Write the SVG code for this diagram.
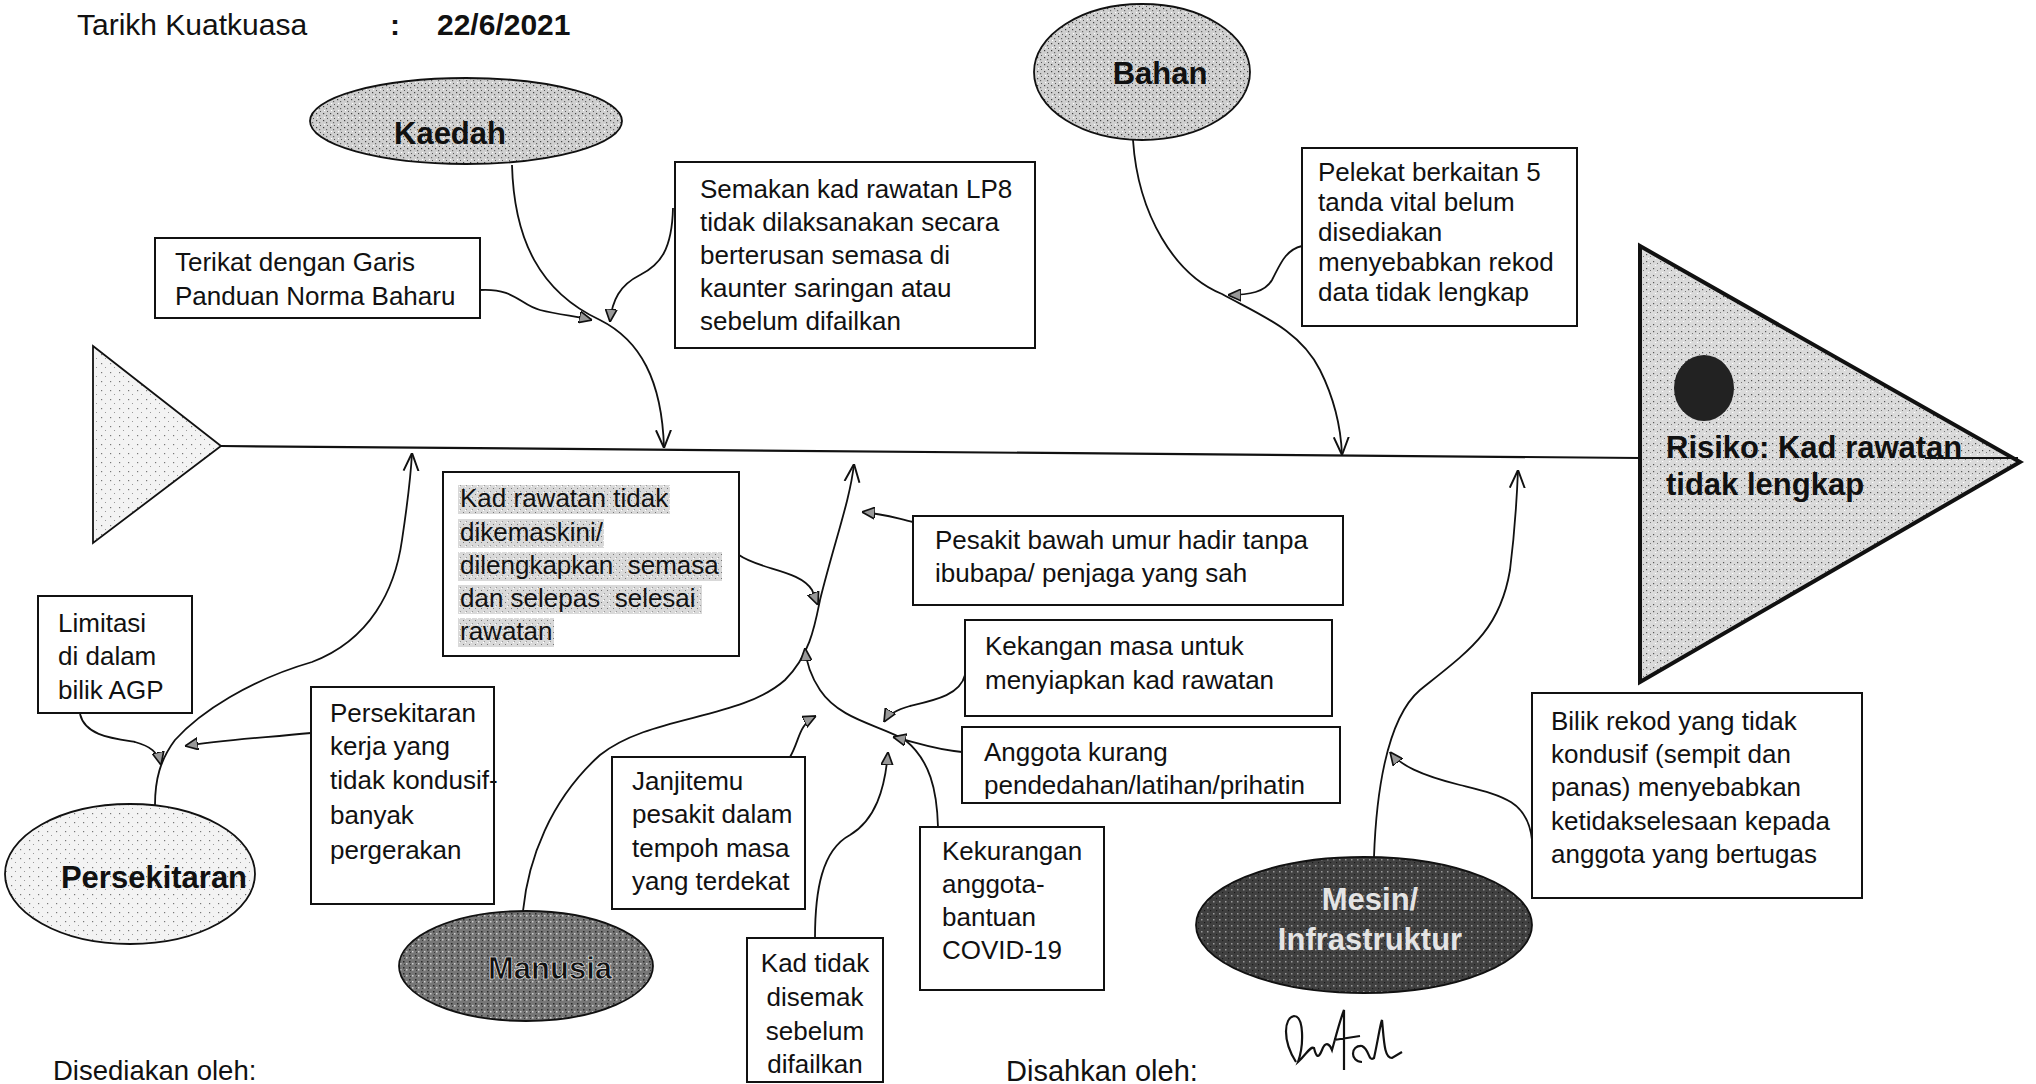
<svg xmlns="http://www.w3.org/2000/svg" width="2036" height="1084" viewBox="0 0 2036 1084">
<defs>
<style>
text{font-family:"Liberation Sans",Arial,sans-serif;fill:#111}
.t{font-size:26px}
.b{font-size:31px;font-weight:bold}
.box{fill:#fff;stroke:#111;stroke-width:2}
.ln{fill:none;stroke:#111;stroke-width:1.8}
.sp{fill:none;stroke:#111;stroke-width:2.2}
.ar{marker-end:url(#tri)}
.ao{marker-end:url(#open)}
</style>
<pattern id="pMid" width="7" height="7" patternUnits="userSpaceOnUse">
<rect width="7" height="7" fill="#cfcfcf"/>
<rect x="1" y="1" width="1.2" height="1.2" fill="#444"/>
<rect x="4" y="3" width="1.2" height="1.2" fill="#666"/>
<rect x="2" y="5" width="1.2" height="1.2" fill="#fff"/>
<rect x="5" y="6" width="1" height="1" fill="#555"/>
</pattern>
<pattern id="pHead" width="7" height="7" patternUnits="userSpaceOnUse">
<rect width="7" height="7" fill="#dadada"/>
<rect x="1" y="2" width="1.2" height="1.2" fill="#555"/>
<rect x="5" y="4" width="1" height="1" fill="#777"/>
<rect x="3" y="6" width="1.2" height="1.2" fill="#fff"/>
</pattern>
<pattern id="pLight" width="9" height="9" patternUnits="userSpaceOnUse">
<rect width="9" height="9" fill="#f3f3f3"/>
<rect x="2" y="3" width="1.2" height="1.2" fill="#777"/>
<rect x="6" y="7" width="1" height="1" fill="#999"/>
</pattern>
<pattern id="pDark1" width="6" height="6" patternUnits="userSpaceOnUse">
<rect width="6" height="6" fill="#767676"/>
<rect x="1" y="1" width="1.5" height="1.5" fill="#2a2a2a"/>
<rect x="4" y="3" width="1.5" height="1.5" fill="#cfcfcf"/>
<rect x="2" y="4" width="1" height="1" fill="#3a3a3a"/>
</pattern>
<pattern id="pDark2" width="6" height="6" patternUnits="userSpaceOnUse">
<rect width="6" height="6" fill="#404040"/>
<rect x="1" y="1" width="1.5" height="1.5" fill="#9a9a9a"/>
<rect x="4" y="4" width="1.2" height="1.2" fill="#1a1a1a"/>
</pattern>
<pattern id="pHl" width="6" height="6" patternUnits="userSpaceOnUse">
<rect width="6" height="6" fill="#d9d9d9"/>
<rect x="1" y="2" width="1" height="1" fill="#777"/>
<rect x="4" y="5" width="1" height="1" fill="#999"/>
<rect x="3" y="0" width="1" height="1" fill="#fff"/>
</pattern>
<marker id="open" viewBox="0 0 12 12" refX="12" refY="6" markerWidth="18" markerHeight="18" markerUnits="userSpaceOnUse" orient="auto">
<path d="M0,1 L12,6 L0,11" fill="none" stroke="#111" stroke-width="1.3"/>
</marker>
<marker id="tri" viewBox="0 0 10 10" refX="10" refY="5" markerWidth="13" markerHeight="13" markerUnits="userSpaceOnUse" orient="auto">
<path d="M0,0.5 L10,5 L0,9.5 z" fill="#999" stroke="#111" stroke-width="1.3"/>
</marker>
</defs>
<rect width="2036" height="1084" fill="#fff"/>

<g id="header">
<text x="77" y="35" font-size="30">Tarikh Kuatkuasa</text>
<text x="390" y="35" font-size="30" font-weight="bold">:</text>
<text x="437" y="35" font-size="30" font-weight="bold">22/6/2021</text>
</g>

<g id="connectors">
<line class="sp" x1="221" y1="446" x2="1640" y2="458"/>
<path class="ln ao" d="M512 165 C514 240 540 292 600 320 C640 340 662 380 664 448"/>
<path class="ln ar" d="M480 290 C515 288 520 305 540 310 C560 315 575 316 592 320"/>
<path class="ln ar" d="M673 208 C672 250 660 265 640 275 C620 285 612 300 610 322"/>
<path class="ln ao" d="M1133 140 C1138 215 1175 275 1222 294 C1260 315 1300 330 1320 370 C1335 400 1341 430 1342 455"/>
<path class="ln ar" d="M1302 246 C1285 250 1280 265 1272 280 C1265 292 1250 295 1228 295"/>
<path class="ln ao" d="M155 805 C155 780 160 760 175 740 C200 712 250 680 312 662 C370 640 395 590 402 540 C408 500 411 472 412 453"/>
<path class="ln ar" d="M80 714 C85 735 110 738 135 742 C150 746 158 752 161 765"/>
<path class="ln ar" d="M311 733 C260 738 220 740 185 746"/>
<path class="ln ao" d="M523 911 C528 860 550 800 600 755 C650 715 740 720 785 680 C810 655 815 625 820 600 C835 540 850 500 854 464"/>
<path class="ln ar" d="M913 522 C895 518 885 514 862 512"/>
<path class="ln ar" d="M739 555 C760 570 800 570 812 590 L818 605"/>
<path class="ln ar" d="M938 827 C937 790 930 760 905 740 C880 725 840 720 820 690 C810 675 806 660 805 648"/>
<path class="ln ar" d="M965 675 C960 695 935 700 910 706 C895 710 888 715 884 722"/>
<path class="ln ar" d="M962 752 C935 750 915 742 893 737"/>
<path class="ln ar" d="M815 938 C815 890 822 850 850 835 C875 820 885 790 888 752"/>
<path class="ln ar" d="M790 757 C800 740 798 725 816 716"/>
<path class="ln ao" d="M1374 857 C1376 800 1385 720 1420 690 C1470 650 1500 630 1510 570 C1515 530 1517 495 1518 470"/>
<path class="ln ar" d="M1532 840 C1528 800 1500 795 1460 785 C1420 775 1400 765 1390 752"/>
</g>

<g id="tail">
<polygon points="93,346 221,446 93,543" fill="url(#pLight)" stroke="#111" stroke-width="1.8"/>
</g>

<g id="head">
<polygon points="1640,246 2020,462 1640,682" fill="url(#pHead)" stroke="#111" stroke-width="4"/>
<ellipse cx="1704" cy="388" rx="30" ry="33" fill="#222"/>
<line x1="1925" y1="458" x2="2018" y2="458" stroke="#111" stroke-width="2"/>
<text class="b" x="1666" y="458" font-size="30">Risiko: Kad rawatan</text>
<text class="b" x="1666" y="495" font-size="30">tidak lengkap</text>
</g>

<g id="kaedah">
<ellipse cx="466" cy="121" rx="156" ry="43" fill="url(#pMid)" stroke="#111" stroke-width="1.8"/>
<text class="b" x="450" y="144" text-anchor="middle">Kaedah</text>
</g>

<g id="bahan">
<ellipse cx="1142" cy="72" rx="108" ry="68" fill="url(#pMid)" stroke="#111" stroke-width="1.8"/>
<text class="b" x="1160" y="84" text-anchor="middle">Bahan</text>
</g>

<g id="persekitaran">
<ellipse cx="130" cy="874" rx="125" ry="70" fill="url(#pLight)" stroke="#111" stroke-width="1.8"/>
<text class="b" x="154" y="888" text-anchor="middle">Persekitaran</text>
</g>

<g id="manusia">
<ellipse cx="526" cy="966" rx="127" ry="55" fill="url(#pDark1)" stroke="#111" stroke-width="1.8"/>
<text class="b" x="550" y="979" text-anchor="middle" stroke="#fff" stroke-width="0.6">Manusia</text>
</g>

<g id="mesin">
<ellipse cx="1364" cy="925" rx="168" ry="68" fill="url(#pDark2)" stroke="#111" stroke-width="1.8"/>
<text class="b" x="1370" y="910" text-anchor="middle" style="fill:#e4e4e4">Mesin/</text>
<text class="b" x="1370" y="950" text-anchor="middle" style="fill:#e4e4e4">Infrastruktur</text>
</g>

<g id="terikat">
<rect class="box" x="155" y="238" width="325" height="80"/>
<text class="t" x="175" y="271">Terikat dengan Garis</text>
<text class="t" x="175" y="305">Panduan Norma Baharu</text>
</g>

<g id="semakan">
<rect class="box" x="675" y="162" width="360" height="186"/>
<text class="t" x="700" y="198">Semakan kad rawatan LP8</text>
<text class="t" x="700" y="231">tidak dilaksanakan secara</text>
<text class="t" x="700" y="264">berterusan semasa di</text>
<text class="t" x="700" y="297">kaunter saringan atau</text>
<text class="t" x="700" y="330">sebelum difailkan</text>
</g>

<g id="pelekat">
<rect class="box" x="1302" y="148" width="275" height="178"/>
<text class="t" x="1318" y="181">Pelekat berkaitan 5</text>
<text class="t" x="1318" y="211">tanda vital belum</text>
<text class="t" x="1318" y="241">disediakan</text>
<text class="t" x="1318" y="271">menyebabkan rekod</text>
<text class="t" x="1318" y="301">data tidak lengkap</text>
</g>

<g id="kad-rawatan">
<rect class="box" x="443" y="472" width="296" height="184"/>
<rect x="458" y="485" width="212" height="29" fill="url(#pHl)"/>
<rect x="458" y="519" width="146" height="29" fill="url(#pHl)"/>
<rect x="458" y="552" width="264" height="29" fill="url(#pHl)"/>
<rect x="458" y="585" width="244" height="29" fill="url(#pHl)"/>
<rect x="458" y="618" width="96" height="29" fill="url(#pHl)"/>
<text class="t" x="460" y="507">Kad rawatan tidak</text>
<text class="t" x="460" y="541">dikemaskini/</text>
<text class="t" x="460" y="574" xml:space="preserve">dilengkapkan  semasa</text>
<text class="t" x="460" y="607" xml:space="preserve">dan selepas  selesai</text>
<text class="t" x="460" y="640">rawatan</text>
</g>

<g id="pesakit">
<rect class="box" x="913" y="516" width="430" height="89"/>
<text class="t" x="935" y="549">Pesakit bawah umur hadir tanpa</text>
<text class="t" x="935" y="582">ibubapa/ penjaga yang sah</text>
</g>

<g id="kekangan">
<rect class="box" x="965" y="620" width="367" height="96"/>
<text class="t" x="985" y="655">Kekangan masa untuk</text>
<text class="t" x="985" y="689">menyiapkan kad rawatan</text>
</g>

<g id="anggota">
<rect class="box" x="962" y="727" width="378" height="76"/>
<text class="t" x="984" y="761">Anggota kurang</text>
<text class="t" x="984" y="794">pendedahan/latihan/prihatin</text>
</g>

<g id="limitasi">
<rect class="box" x="38" y="596" width="154" height="117"/>
<text class="t" x="58" y="632">Limitasi</text>
<text class="t" x="58" y="665">di dalam</text>
<text class="t" x="58" y="699">bilik AGP</text>
</g>

<g id="kerja">
<rect class="box" x="311" y="687" width="183" height="217"/>
<text class="t" x="330" y="722" font-size="24">Persekitaran</text>
<text class="t" x="330" y="755" font-size="24">kerja yang</text>
<text class="t" x="330" y="789" font-size="24">tidak kondusif-</text>
<text class="t" x="330" y="824" font-size="24">banyak</text>
<text class="t" x="330" y="859" font-size="24">pergerakan</text>
</g>

<g id="janjitemu">
<rect class="box" x="612" y="757" width="193" height="152"/>
<text class="t" x="632" y="790">Janjitemu</text>
<text class="t" x="632" y="823">pesakit dalam</text>
<text class="t" x="632" y="857">tempoh masa</text>
<text class="t" x="632" y="890">yang terdekat</text>
</g>

<g id="kad-tidak">
<rect class="box" x="747" y="938" width="136" height="144"/>
<text class="t" x="815" y="972" text-anchor="middle">Kad tidak</text>
<text class="t" x="815" y="1006" text-anchor="middle">disemak</text>
<text class="t" x="815" y="1040" text-anchor="middle">sebelum</text>
<text class="t" x="815" y="1073" text-anchor="middle">difailkan</text>
</g>

<g id="kekurangan">
<rect class="box" x="920" y="827" width="184" height="163"/>
<text class="t" x="942" y="860">Kekurangan</text>
<text class="t" x="942" y="893">anggota-</text>
<text class="t" x="942" y="926">bantuan</text>
<text class="t" x="942" y="959">COVID-19</text>
</g>

<g id="bilik">
<rect class="box" x="1532" y="693" width="330" height="205"/>
<text class="t" x="1551" y="730">Bilik rekod yang tidak</text>
<text class="t" x="1551" y="763">kondusif (sempit dan</text>
<text class="t" x="1551" y="796">panas) menyebabkan</text>
<text class="t" x="1551" y="830">ketidakselesaan kepada</text>
<text class="t" x="1551" y="863">anggota yang bertugas</text>
</g>

<g id="footer">
<text x="53" y="1080" font-size="27.5">Disediakan oleh:</text>
<text x="1006" y="1081" font-size="29">Disahkan oleh:</text>
<path d="M1296 1062 C1282 1040 1284 1018 1294 1016 C1304 1016 1304 1045 1298 1062 C1306 1055 1310 1046 1314 1048 C1316 1056 1318 1060 1322 1050 C1326 1040 1330 1045 1332 1050 C1336 1036 1340 1020 1344 1010 L1344 1070 M1334 1040 L1360 1036 M1362 1062 C1350 1062 1350 1045 1362 1046 C1370 1050 1368 1062 1374 1058 C1378 1040 1380 1025 1382 1020 C1384 1040 1384 1058 1392 1058 L1402 1052" fill="none" stroke="#111" stroke-width="2.2"/>
</g>
</svg>
